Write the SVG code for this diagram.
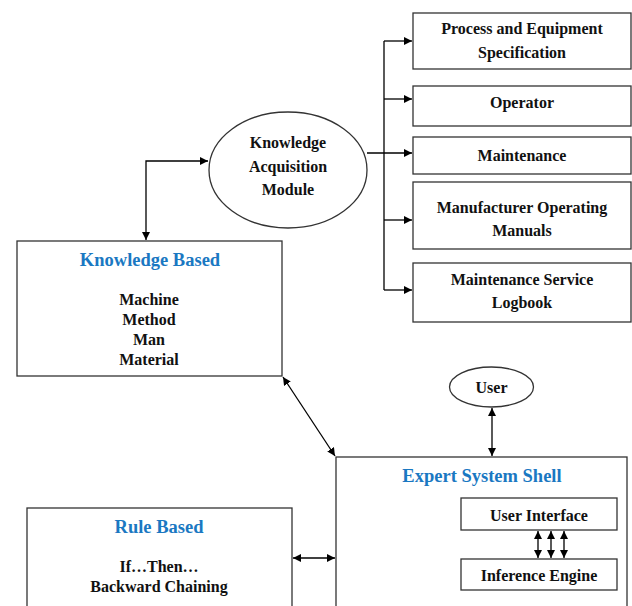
<svg xmlns="http://www.w3.org/2000/svg" width="632" height="606" viewBox="0 0 632 606">
<style>
.box{fill:#fff;stroke:#333;stroke-width:1.3}
.t{font-family:"Liberation Serif","Times New Roman",serif;font-weight:bold;font-size:16px;fill:#111;text-anchor:middle}
.h{font-family:"Liberation Serif","Times New Roman",serif;font-weight:bold;font-size:18.5px;fill:#1a78c2;text-anchor:middle}
.ln{fill:none;stroke:#000;stroke-width:1.3}
</style>
<defs>
<marker id="ah" viewBox="0 0 10 10" refX="10" refY="5" markerWidth="8" markerHeight="8" markerUnits="userSpaceOnUse" orient="auto-start-reverse">
<path d="M0,0 L10,5 L0,10 z" fill="#000"/>
</marker>
</defs>
<rect width="632" height="606" fill="#fff"/>
<g id="process">
<rect class="box" x="413" y="13" width="218" height="56"/>
<text class="t" x="522" y="34">Process and Equipment</text>
<text class="t" x="522" y="58">Specification</text>
</g>
<g id="operator">
<rect class="box" x="413" y="86" width="218" height="40"/>
<text class="t" x="522" y="108">Operator</text>
</g>
<g id="maintenance">
<rect class="box" x="413" y="137" width="218" height="37"/>
<text class="t" x="522" y="161">Maintenance</text>
</g>
<g id="manuals">
<rect class="box" x="413" y="182" width="218" height="67"/>
<text class="t" x="522" y="213">Manufacturer Operating</text>
<text class="t" x="522" y="236">Manuals</text>
</g>
<g id="logbook">
<rect class="box" x="413" y="263" width="218" height="59"/>
<text class="t" x="522" y="285">Maintenance Service</text>
<text class="t" x="522" y="308">Logbook</text>
</g>
<g id="kam">
<ellipse class="box" cx="288" cy="170" rx="79" ry="58"/>
<text class="t" x="288" y="148">Knowledge</text>
<text class="t" x="288" y="172">Acquisition</text>
<text class="t" x="288" y="195">Module</text>
</g>
<g id="knowledge-based">
<rect class="box" x="17" y="241" width="265" height="135"/>
<text class="h" x="150" y="266">Knowledge Based</text>
<text class="t" x="149" y="305">Machine</text>
<text class="t" x="149" y="325">Method</text>
<text class="t" x="149" y="345">Man</text>
<text class="t" x="149" y="365">Material</text>
</g>
<g id="user">
<ellipse class="box" cx="491.5" cy="387" rx="42" ry="20"/>
<text class="t" x="491.5" y="393">User</text>
</g>
<g id="shell">
<rect class="box" x="336" y="457" width="291" height="160"/>
<text class="h" x="482" y="482">Expert System Shell</text>
</g>
<g id="user-interface">
<rect class="box" x="461" y="498" width="156" height="32"/>
<text class="t" x="539" y="521">User Interface</text>
</g>
<g id="inference-engine">
<rect class="box" x="461" y="559" width="156" height="31"/>
<text class="t" x="539" y="581">Inference Engine</text>
</g>
<g id="rule-based">
<rect class="box" x="27" y="508" width="265" height="110"/>
<text class="h" x="159" y="533">Rule Based</text>
<text class="t" x="159" y="572">If…Then…</text>
<text class="t" x="159" y="592">Backward Chaining</text>
</g>
<g id="connectors">
<path class="ln" d="M367,153 H412" marker-end="url(#ah)"/>
<path class="ln" d="M384,41 V290"/>
<path class="ln" d="M384,41 H412" marker-end="url(#ah)"/>
<path class="ln" d="M384,99 H412" marker-end="url(#ah)"/>
<path class="ln" d="M384,220 H412" marker-end="url(#ah)"/>
<path class="ln" d="M384,290 H412" marker-end="url(#ah)"/>
<path class="ln" d="M146,240 V161 H208" marker-start="url(#ah)" marker-end="url(#ah)"/>
<path class="ln" d="M283,377 L335,456" marker-start="url(#ah)" marker-end="url(#ah)"/>
<path class="ln" d="M492,408 V456" marker-start="url(#ah)" marker-end="url(#ah)"/>
<path class="ln" d="M293,558 H335" marker-start="url(#ah)" marker-end="url(#ah)"/>
<path class="ln" d="M538,531 V558" marker-start="url(#ah)" marker-end="url(#ah)"/>
<path class="ln" d="M551,531 V558" marker-start="url(#ah)" marker-end="url(#ah)"/>
<path class="ln" d="M564,531 V558" marker-start="url(#ah)" marker-end="url(#ah)"/>
</g>
</svg>
